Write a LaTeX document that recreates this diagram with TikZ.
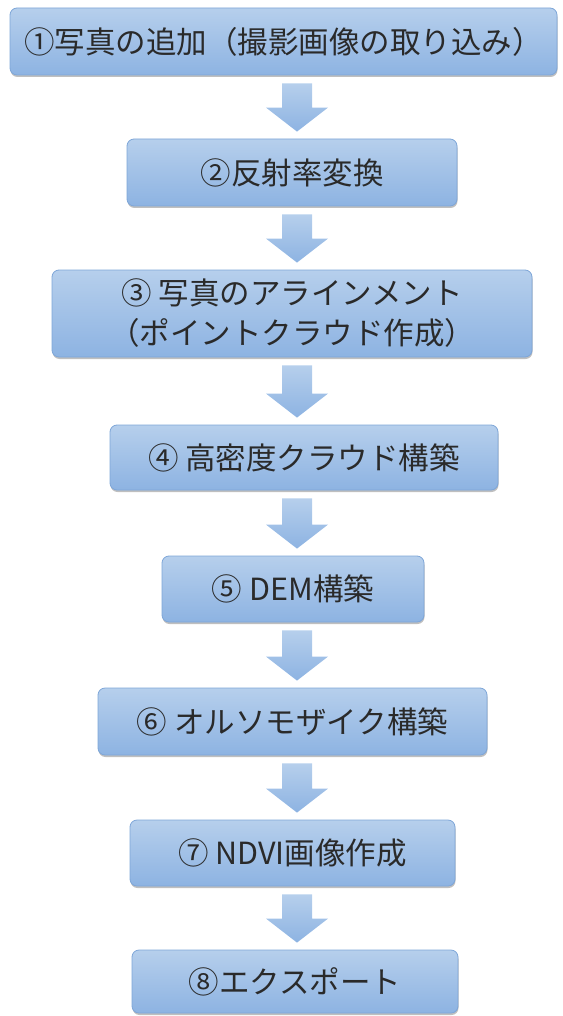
\documentclass[tikz,border=0pt]{standalone}
\usepackage{fontspec}
\setmainfont{Noto Sans CJK JP}
\usetikzlibrary{calc,shadows}
\definecolor{topc}{HTML}{B6CFEC}
\definecolor{botc}{HTML}{8DB3E2}
\definecolor{edgec}{HTML}{7EA6D8}
\definecolor{txt}{HTML}{2A2A2A}
\newcommand\blockarr[2]{%
  \path[arr] let \p1=(axis), \p2=(#1.south), \p3=(#2.north) in
    (\x1-15pt,\y2-8pt) -- (\x1+15pt,\y2-8pt) -- (\x1+15pt,\y3+31pt)
    -- (\x1+31pt,\y3+31pt) -- (\x1,\y3+7pt) -- (\x1-31pt,\y3+31pt)
    -- (\x1-15pt,\y3+31pt) -- cycle;}
\begin{document}
\begin{tikzpicture}[x=1pt,y=-1pt,
  box/.style={rectangle, rounded corners=7pt, draw=edgec, line width=0.8pt,
    top color=topc, bottom color=botc, text=txt,
    font=\fontsize{30.5}{40}\selectfont, align=center, inner sep=0pt,
    drop shadow={shadow xshift=0.5pt, shadow yshift=-2pt, opacity=0.25, fill=black}},
  arr/.style={top color=topc, bottom color=botc, draw=none}]
\useasboundingbox (0,0) rectangle (562,1016);
\coordinate (axis) at (297,0);
\node[box, minimum width=547pt, minimum height=67pt] (b1) at (283.5,41.5) {①写真の追加（撮影画像の取り込み）};
\node[box, minimum width=330pt, minimum height=67pt] (b2) at (292,172.5) {②反射率変換};
\node[box, minimum width=480pt, minimum height=87pt] (b3) at (292,313.5) {③ 写真のアラインメント\\（ポイントクラウド作成）};
\node[box, minimum width=388pt, minimum height=65pt] (b4) at (304,457.5) {④ 高密度クラウド構築};
\node[box, minimum width=262pt, minimum height=66pt] (b5) at (293,589) {⑤ DEM構築};
\node[box, minimum width=389pt, minimum height=67pt] (b6) at (292.5,721.5) {⑥ オルソモザイク構築};
\node[box, minimum width=325pt, minimum height=66pt] (b7) at (292.5,853) {⑦ NDVI画像作成};
\node[box, minimum width=326pt, minimum height=63pt] (b8) at (295,981.5) {⑧エクスポート};
\blockarr{b1}{b2}
\blockarr{b2}{b3}
\blockarr{b3}{b4}
\blockarr{b4}{b5}
\blockarr{b5}{b6}
\blockarr{b6}{b7}
\blockarr{b7}{b8}
\end{tikzpicture}
\end{document}
